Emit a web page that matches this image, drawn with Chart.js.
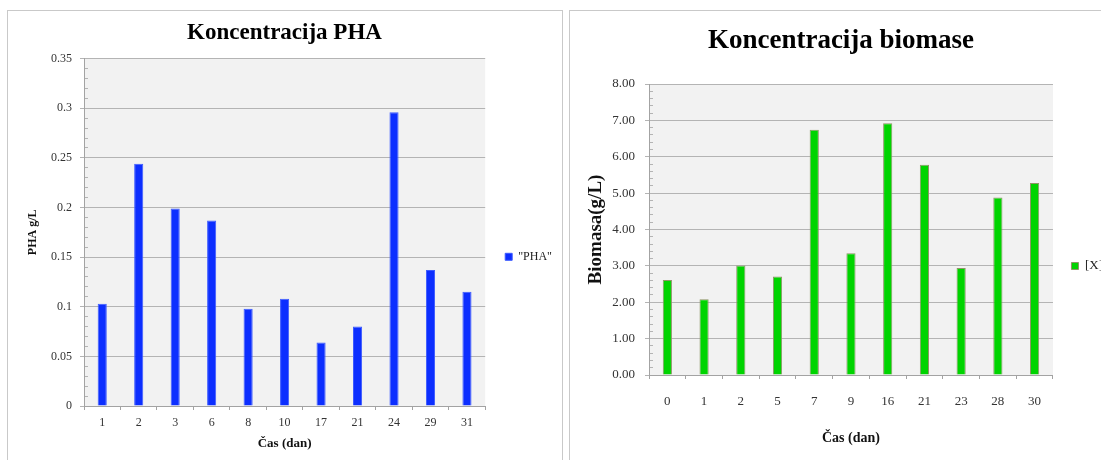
<!DOCTYPE html>
<html>
<head>
<meta charset="utf-8">
<script src="https://cdn.jsdelivr.net/npm/chart.js@4.4.1/dist/chart.umd.min.js"></script>
<style>
  html, body { margin: 0; padding: 0; background: #fff; overflow: hidden; }
  body { width: 1101px; height: 460px; position: relative; }
  .panel { position: absolute; top: 10px; height: 470px; border: 1px solid #c9c9c9; box-sizing: border-box; }
  #panelPha { left: 7px; width: 556px; }
  #panelBio { left: 569px; width: 600px; }
  canvas { position: absolute; top: 10px; }
  #phaChart { left: 7px; }
  #bioChart { left: 569px; }
</style>
</head>
<body>
<div class="panel" id="panelPha"></div>
<div class="panel" id="panelBio"></div>
<canvas id="phaChart" width="555" height="450"></canvas>
<canvas id="bioChart" width="544" height="450"></canvas>
<script>
const phaDays = ['1', '2', '3', '6', '8', '10', '17', '21', '24', '29', '31'];
const phaValues = [0.103, 0.244, 0.199, 0.187, 0.098, 0.108, 0.064, 0.080, 0.296, 0.137, 0.115];
const phaTicks = ['0', '0.05', '0.1', '0.15', '0.2', '0.25', '0.3', '0.35'];

const bioDays = ['0', '1', '2', '5', '7', '9', '16', '21', '23', '28', '30'];
const bioValues = [2.61, 2.08, 3.01, 2.71, 6.74, 3.35, 6.92, 5.78, 2.94, 4.88, 5.28];
const bioTicks = ['0.00', '1.00', '2.00', '3.00', '4.00', '5.00', '6.00', '7.00', '8.00'];

const FONT = "'Liberation Serif', 'DejaVu Serif', serif";
const GRID = '#b4b4b4';
const AXIS = '#a3a3a3';

// siva podlaga samo za območje grafa
const plotBg = {
    id: 'plotBg',
    beforeDraw(chart) {
        const a = chart.chartArea;
        const ctx = chart.ctx;
        ctx.save();
        ctx.fillStyle = '#f2f2f2';
        ctx.fillRect(a.left, a.top, a.right - a.left, a.bottom - a.top);
        ctx.restore();
    }
};

function makeChart(id, s) {
    return new Chart(document.getElementById(id), {
        type: 'bar',
        data: {
            labels: s.labels,
            datasets: [{
                label: s.legend,
                data: s.values,
                backgroundColor: s.fill,
                borderColor: s.edge,
                borderWidth: 1,
                barPercentage: 0.25,
                categoryPercentage: 1
            }]
        },
        options: {
            responsive: false,
            animation: false,
            events: [],
            layout: { padding: 0 },
            plugins: {
                tooltip: { enabled: false },
                title: {
                    display: true, text: s.title, color: '#000',
                    font: { family: FONT, size: s.titleSize, weight: 'bold' },
                    padding: { top: s.titleTop, bottom: s.titleBottom }
                },
                legend: {
                    position: 'right', fullSize: false,
                    title: { display: true, text: ' ', font: { size: 10 }, padding: { top: 0, bottom: s.legendShift } },
                    labels: { boxWidth: 7, boxHeight: 7, padding: s.legendPad, color: '#222', font: { family: FONT, size: s.legendSize } }
                }
            },
            scales: {
                x: {
                    grid: { offset: true, drawOnChartArea: false, color: AXIS, tickLength: 4 },
                    border: { color: AXIS },
                    ticks: { color: '#333', font: { family: FONT, size: s.tickSize }, padding: s.xPad, maxRotation: 0, autoSkip: false },
                    title: {
                        display: true, text: 'Čas (dan)', color: '#111',
                        font: { family: FONT, size: s.xTitleSize, weight: 'bold' },
                        padding: { top: 0, bottom: s.xTitlePad }
                    },
                    afterFit: sc => { sc.height = s.xHeight; }
                },
                y: {
                    weight: 1, min: 0, max: s.max,
                    grid: { color: GRID, tickLength: 4 },
                    border: { color: AXIS },
                    ticks: {
                        stepSize: s.step, padding: s.yPad, color: '#333',
                        font: { family: FONT, size: s.tickSize },
                        callback: (v, i) => s.ticks[i]
                    },
                    title: {
                        display: true, text: s.yTitle, color: '#111',
                        font: { family: FONT, size: s.yTitleSize, weight: 'bold' },
                        padding: { top: s.yTitlePad, bottom: 0 }
                    },
                    afterFit: sc => { sc.width = s.yWidth; }
                },
                // drobne oznake na notranji strani osi
                yMinor: {
                    type: 'linear', position: 'left', weight: 0, min: 0, max: s.max,
                    ticks: { display: false, stepSize: s.minorStep },
                    grid: { drawOnChartArea: false, tickLength: -4, color: GRID },
                    border: { display: false },
                    afterFit: sc => { sc.width = 0; }
                }
            }
        },
        plugins: [plotBg]
    });
}

makeChart('phaChart', {
    labels: phaDays, values: phaValues, ticks: phaTicks,
    max: 0.35, step: 0.05, minorStep: 0.01,
    fill: '#0c2eff', edge: '#3d5bff',
    legend: '"PHA"', legendSize: 12, legendPad: 20, legendShift: 37,
    title: 'Koncentracija PHA', titleSize: 23, titleTop: 9, titleBottom: 12,
    yTitle: 'PHA g/L', yTitleSize: 12, yTitlePad: 19, yWidth: 77, yPad: 8,
    tickSize: 12, xPad: 6, xTitleSize: 13, xTitlePad: 9, xHeight: 54
});

makeChart('bioChart', {
    labels: bioDays, values: bioValues, ticks: bioTicks,
    max: 8, step: 1, minorStep: 0.2,
    fill: '#00d400', edge: '#8e9566',
    legend: '[X]', legendSize: 13, legendPad: 18.5, legendShift: 61,
    title: 'Koncentracija biomase', titleSize: 27, titleTop: 15, titleBottom: 26.6,
    yTitle: 'Biomasa(g/L)', yTitleSize: 19, yTitlePad: 15.6, yWidth: 80, yPad: 10,
    tickSize: 13, xPad: 15, xTitleSize: 14, xTitlePad: 13.6, xHeight: 85
});
</script>
</body>
</html>
